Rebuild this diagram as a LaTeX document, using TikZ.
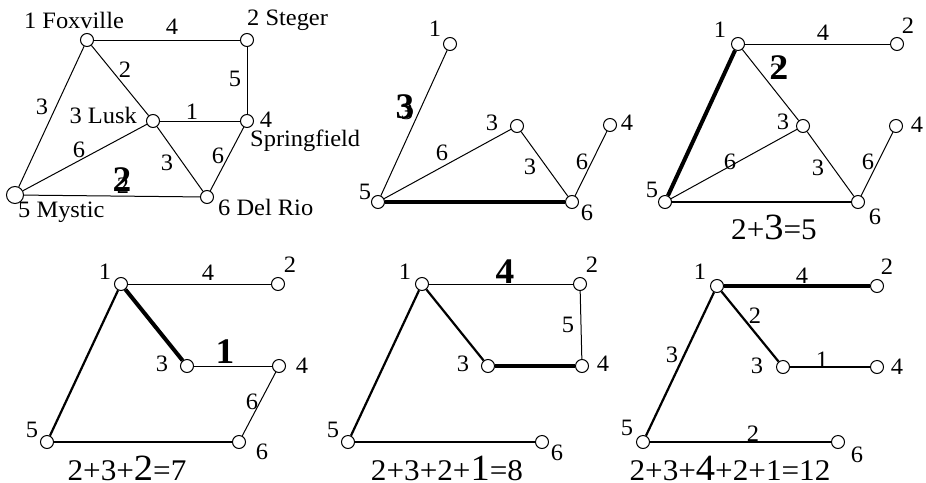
\documentclass[tikz,border=0pt]{standalone}
\usepackage{fontspec}
\setmainfont{Liberation Serif}[FakeStretch=1.04]
\begin{document}
\begin{tikzpicture}[x=1pt,y=-1pt,
  v/.style={circle, draw, fill=white, minimum size=13pt, inner sep=0pt, line width=1pt},
  vbig/.style={v, minimum size=17pt},
  lab/.style={inner sep=0pt, font=\fontsize{23.5}{23.5}\selectfont},
  blab/.style={inner sep=0pt, font=\fontsize{36}{36}\selectfont\bfseries},
  form/.style={inner sep=0pt, anchor=base, font=\fontsize{30}{30}\selectfont},
  e0/.style={line width=1pt},
  e1/.style={line width=2.2pt},
  e2/.style={line width=4pt}]
\useasboundingbox (0,0) rectangle (926,482);
\newcommand{\bigd}[1]{{\fontsize{37}{37}\selectfont #1}}
% ---------------- Panel 1 ----------------
\node[v] (a1) at (87,40) {};
\node[v] (a2) at (247,40) {};
\node[v] (a3) at (153,121) {};
\node[v] (a4) at (247,121) {};
\node[vbig] (a5) at (15,195) {};
\node[v] (a6) at (207,197) {};
\draw[e0] (a1) -- (a2);
\draw[e0] (a1) -- (a3);
\draw[e0] (a1) -- (a5);
\draw[e0] (a2) -- (a4);
\draw[e0] (a3) -- (a4);
\draw[e0] (a3) -- (a5);
\draw[e0] (a3) -- (a6);
\draw[e0] (a4) -- (a6);
\draw[e0] (a5) -- (a6);
\node[lab] (a1t) at (74,20) {1 Foxville};
\node[lab, anchor=west] (a2t) at (247,20) {2 Steger};
\node[lab, anchor=east] (a3t) at (137,115) {3 Lusk};
\node[lab] (a4t) at (266,120) {4};
\node[lab, anchor=west] (a4s) at (250,141) {Springfield};
\node[lab, anchor=west] (a5t) at (18,212) {5 Mystic};
\node[lab, anchor=west] (a6t) at (218,207) {6 Del Rio};
\node[lab] (a12) at (172,27) {4};
\node[lab] (a13) at (125,70) {2};
\node[lab] (a24) at (235,79) {5};
\node[lab] (a34) at (192,112) {1};
\node[lab] (a15) at (42,107) {3};
\node[lab] (a35) at (79,150) {6};
\node[lab] (a36) at (167,163) {3};
\node[lab] (a46) at (218,156) {6};
\node[lab] (a56r) at (123,186) {2};
\node[blab] (a56) at (122,180) {2};
% ---------------- Panel 2 ----------------
\node[v] (b1) at (450,44) {};
\node[v] (b3) at (517,126) {};
\node[v] (b4) at (610,125) {};
\node[v] (b5) at (378,202) {};
\node[v] (b6) at (572,202) {};
\draw[e0] (b5) -- (b1);
\draw[e0] (b5) -- (b3);
\draw[e0] (b3) -- (b6);
\draw[e0] (b6) -- (b4);
\draw[e2] (b5) -- (b6);
\node[lab] (b1t) at (435,29) {1};
\node[lab] (b3t) at (492,123) {3};
\node[lab] (b4t) at (627,123) {4};
\node[lab] (b5t) at (365,192) {5};
\node[lab] (b6t) at (587,213) {6};
\node[lab] (b15r) at (407,112) {3};
\node[blab] (b15) at (405,107) {3};
\node[lab] (b35) at (442,153) {6};
\node[lab] (b36) at (530,167) {3};
\node[lab] (b46) at (582,162) {6};
% ---------------- Panel 3 ----------------
\node[v] (c1) at (738,44) {};
\node[v] (c2) at (897,44) {};
\node[v] (c3) at (803,126) {};
\node[v] (c4) at (896,126) {};
\node[v] (c5) at (665,202) {};
\node[v] (c6) at (858,202) {};
\draw[e0] (c1) -- (c2);
\draw[e0] (c1) -- (c3);
\draw[e0] (c3) -- (c5);
\draw[e0] (c3) -- (c6);
\draw[e0] (c6) -- (c4);
\draw[e2] (c1) -- (c5);
\draw[e1] (c5) -- (c6);
\node[lab] (c1t) at (720,30) {1};
\node[lab] (c2t) at (908,26) {2};
\node[lab] (c3t) at (783,122) {3};
\node[lab] (c4t) at (917,125) {4};
\node[lab] (c5t) at (652,190) {5};
\node[lab] (c6t) at (875,217) {6};
\node[lab] (c12) at (823,33) {4};
\node[lab] (c13r) at (776,72) {2};
\node[blab] (c13) at (779,68) {2};
\node[lab] (c35) at (730,162) {6};
\node[lab] (c36) at (818,168) {3};
\node[lab] (c46) at (868,162) {6};
\node[form] (cf) at (774,239) {2+\bigd{3}=5};
% ---------------- Panel 4 ----------------
\node[v] (d1) at (121,284) {};
\node[v] (d2) at (278,284) {};
\node[v] (d3) at (187,366) {};
\node[v] (d4) at (279,366) {};
\node[v] (d5) at (47,442) {};
\node[v] (d6) at (239,442) {};
\draw[e0] (d1) -- (d2);
\draw[e0] (d3) -- (d4);
\draw[e0] (d4) -- (d6);
\draw[e1] (d1) -- (d5);
\draw[e2] (d1) -- (d3);
\draw[e1] (d5) -- (d6);
\node[lab] (d1t) at (105,272) {1};
\node[lab] (d2t) at (290,265) {2};
\node[lab] (d3t) at (162,364) {3};
\node[lab] (d4t) at (302,366) {4};
\node[lab] (d5t) at (32,430) {5};
\node[lab] (d6t) at (262,452) {6};
\node[lab] (d12) at (208,273) {4};
\node[blab] (d34) at (225,352) {1};
\node[lab] (d46) at (252,402) {6};
\node[form] (df) at (127,480) {2+3+\bigd{2}=7};
% ---------------- Panel 5 ----------------
\node[v] (e1) at (422,284) {};
\node[v] (e2) at (580,284) {};
\node[v] (e3) at (488,366) {};
\node[v] (e4) at (582,366) {};
\node[v] (e5) at (348,442) {};
\node[v] (e6) at (542,442) {};
\draw[e0] (e1) -- (e2);
\draw[e0] (e2) -- (e4);
\draw[e1] (e1) -- (e5);
\draw[e1] (e1) -- (e3);
\draw[e2] (e3) -- (e4);
\draw[e1] (e5) -- (e6);
\node[lab] (e1t) at (405,272) {1};
\node[lab] (e2t) at (592,265) {2};
\node[lab] (e3t) at (463,364) {3};
\node[lab] (e4t) at (603,364) {4};
\node[lab] (e5t) at (333,430) {5};
\node[lab] (e6t) at (557,453) {6};
\node[blab] (e12) at (505,272) {4};
\node[lab] (e24) at (568,325) {5};
\node[form] (ef) at (447,480) {2+3+2+\bigd{1}=8};
% ---------------- Panel 6 ----------------
\node[v] (f1) at (717,286) {};
\node[v] (f2) at (877,286) {};
\node[v] (f3) at (783,367) {};
\node[v] (f4) at (877,367) {};
\node[v] (f5) at (643,442) {};
\node[v] (f6) at (838,442) {};
\draw[e2] (f1) -- (f2);
\draw[e1] (f1) -- (f3);
\draw[e1] (f1) -- (f5);
\draw[e1] (f3) -- (f4);
\draw[e1] (f5) -- (f6);
\node[lab] (f1t) at (700,272) {1};
\node[lab] (f2t) at (887,267) {2};
\node[lab] (f3t) at (757,366) {3};
\node[lab] (f4t) at (897,367) {4};
\node[lab] (f5t) at (627,428) {5};
\node[lab] (f6t) at (857,455) {6};
\node[lab] (f12) at (802,276) {4};
\node[lab] (f13) at (755,316) {2};
\node[lab] (f15) at (672,355) {3};
\node[lab] (f34) at (822,360) {1};
\node[lab] (f56) at (753,434) {2};
\node[form] (ff) at (730,480) {2+3+\bigd{4}+2+1=12};
\end{tikzpicture}
\end{document}
